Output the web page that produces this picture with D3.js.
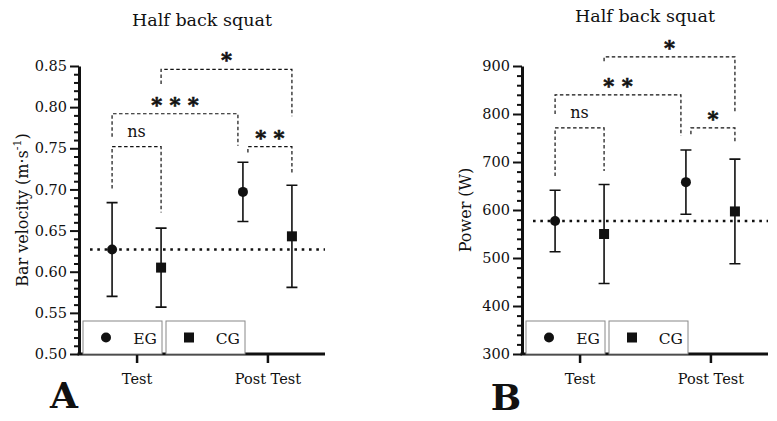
<!DOCTYPE html>
<html>
<head>
<meta charset="utf-8">
<script src="https://cdn.jsdelivr.net/npm/d3@7"></script>
<style>
  body { margin: 0; background: #fff; }
  svg { display: block; }
  text { font-family: "DejaVu Serif", serif; fill: #111; }
</style>
</head>
<body>
<svg id="chart" width="777" height="421"></svg>
<script>
/* globals d3 */
const phases = ['Test', 'Post Test'];
const groups = ['EG', 'CG'];

// bar velocity (m/s), mean and SD per phase
const velocityEG = [0.627, 0.697];
const velocityEGSd = [0.057, 0.036];
const velocityCG = [0.605, 0.643];
const velocityCGSd = [0.048, 0.062];
const velocityBaseline = 0.627;
const velocityTicks = [0.50, 0.55, 0.60, 0.65, 0.70, 0.75, 0.80, 0.85];

// power (W)
const powerEG = [577, 658];
const powerEGSd = [64, 67];
const powerCG = [550, 597];
const powerCGSd = [103, 109];
const powerBaseline = 577;
const powerTicks = [300, 400, 500, 600, 700, 800, 900];

// comparisons between points: 0 EG test, 1 CG test, 2 EG post, 3 CG post
// level = bracket height, endA / endB = where each leg stops (data units)
const velocityComparisons = [
  { a: 0, b: 1, level: 0.752, endA: 0.701, endB: 0.672, label: 'ns' },
  { a: 0, b: 2, level: 0.792, endA: 0.764, endB: 0.753, label: '* * *' },
  { a: 2, b: 3, level: 0.752, endA: 0.745, endB: 0.719, label: '* *' },
  { a: 1, b: 3, level: 0.846, endA: 0.828, endB: 0.789, label: '*' }
];
const powerComparisons = [
  { a: 0, b: 1, level: 771, endA: 671, endB: 681, label: 'ns' },
  { a: 0, b: 2, level: 840, endA: 800, endB: 754, label: '* *' },
  { a: 2, b: 3, level: 771, endA: 758, endB: 742, label: '*' },
  { a: 1, b: 3, level: 919, endA: 910, endB: 804, label: '*' }
];

const svg = d3.select('#chart');
const plotTop = 66;
const plotBottom = 354;
const plotWidth = 246;
const splitPoint = 2; // legs meeting at EG post test sit either side of it

function drawPanel (cfg) {
  const g = svg.append('g');
  const x = d3.scalePoint().domain(phases).range([cfg.left, cfg.left + plotWidth]).padding(0.44);
  const dx = d3.scalePoint().domain(groups).range([-24.5, 24.5]);
  const y = d3.scaleLinear().domain(cfg.domain).range([plotBottom, plotTop]);

  const px = i => x(phases[Math.floor(i / 2)]) + dx(groups[i % 2]);

  // title
  g.append('text')
    .attr('x', cfg.left + plotWidth / 2)
    .attr('y', cfg.titleY)
    .attr('text-anchor', 'middle')
    .style('font-size', '17.5px')
    .text('Half back squat');

  // y axis
  const minor = d3.range(cfg.domain[0], cfg.domain[1] + cfg.minorStep / 2, cfg.minorStep)
    .filter(v => !cfg.ticks.some(t => Math.abs(t - v) < cfg.minorStep / 10));
  g.append('g')
    .attr('transform', `translate(${cfg.left},0)`)
    .call(d3.axisLeft(y).tickValues(minor).tickSize(5).tickFormat(''))
    .call(a => a.select('.domain').remove())
    .call(a => a.selectAll('line').attr('stroke', '#111').attr('stroke-width', 2));
  const yAxis = g.append('g')
    .attr('transform', `translate(${cfg.left},0)`)
    .call(d3.axisLeft(y).tickValues(cfg.ticks).tickSize(9).tickSizeOuter(0).tickPadding(3).tickFormat(cfg.format));
  yAxis.select('.domain').attr('stroke', '#111').attr('stroke-width', 3);
  yAxis.selectAll('line').attr('stroke', '#111').attr('stroke-width', 2);
  yAxis.selectAll('text').style('font-size', '14.5px').attr('fill', '#111').style('font-family', '"DejaVu Serif", serif');

  // x axis
  const xAxis = g.append('g')
    .attr('transform', `translate(0,${plotBottom})`)
    .call(d3.axisBottom(x).tickSize(9).tickSizeOuter(0).tickPadding(11));
  xAxis.select('.domain').attr('stroke', '#111').attr('stroke-width', 3)
    .attr('d', `M${cfg.left - 1.5},0H${cfg.left + plotWidth}`);
  xAxis.selectAll('line').attr('stroke', '#111').attr('stroke-width', 2.5);
  xAxis.selectAll('text').style('font-size', '14.5px').attr('fill', '#111').style('font-family', '"DejaVu Serif", serif');

  // y label
  const yl = g.append('text')
    .attr('transform', `translate(${cfg.left - 51},${(plotTop + plotBottom) / 2}) rotate(-90)`)
    .attr('text-anchor', 'middle')
    .style('font-size', '16px');
  cfg.yLabel(yl);

  // dotted reference line at the EG pre-test mean
  g.append('line')
    .attr('x1', cfg.left + 11).attr('x2', cfg.left + plotWidth)
    .attr('y1', y(cfg.baseline)).attr('y2', y(cfg.baseline))
    .attr('stroke', '#111').attr('stroke-width', 2.5)
    .attr('stroke-dasharray', '2.6,4.7');

  // points and error bars
  const points = [];
  phases.forEach((p, i) => {
    points.push({ i: i * 2, mean: cfg.eg[i], sd: cfg.egSd[i], group: 'EG' });
    points.push({ i: i * 2 + 1, mean: cfg.cg[i], sd: cfg.cgSd[i], group: 'CG' });
  });
  const pg = g.selectAll('.pt').data(points).join('g').attr('class', 'pt');
  pg.append('path')
    .attr('d', d => {
      const cx = px(d.i);
      const y0 = y(d.mean - d.sd);
      const y1 = y(d.mean + d.sd);
      return `M${cx},${y0}V${y1}M${cx - 5.5},${y1}H${cx + 5.5}M${cx - 5.5},${y0}H${cx + 5.5}`;
    })
    .attr('stroke', '#111').attr('stroke-width', 1.6).attr('fill', 'none');
  pg.filter(d => d.group === 'EG').append('circle')
    .attr('cx', d => px(d.i)).attr('cy', d => y(d.mean)).attr('r', 5)
    .attr('fill', '#111');
  pg.filter(d => d.group === 'CG').append('rect')
    .attr('x', d => px(d.i) - 5).attr('y', d => y(d.mean) - 5)
    .attr('width', 10).attr('height', 10)
    .attr('fill', '#111');

  // significance brackets
  cfg.comparisons.forEach(c => {
    const xa = px(c.a) + (c.a === splitPoint ? 5 : 0);
    const xb = px(c.b) - (c.b === splitPoint ? 5 : 0);
    const ly = y(c.level);
    g.append('path')
      .attr('d', `M${xa},${y(c.endA)}V${ly}H${xb}V${y(c.endB)}`)
      .attr('fill', 'none').attr('stroke', '#111').attr('stroke-width', 1.2)
      .attr('stroke-dasharray', '3.5,2.5');
    const isNs = c.label === 'ns';
    const label = g.append('text')
      .attr('x', (xa + xb) / 2)
      .attr('y', isNs ? ly - 10 : ly - 2)
      .attr('text-anchor', 'middle')
      .style('font-size', isNs ? '16px' : '21px')
      .style('font-weight', isNs ? 'normal' : 'bold')
      .text(c.label);
    if (!isNs) label.attr('stroke', '#111').attr('stroke-width', 0.6);
  });

  // legend boxes
  groups.forEach((grp, k) => {
    const bx = cfg.left + 4 + k * 83;
    const lg = g.append('g').attr('transform', `translate(${bx},${plotBottom - 33})`);
    lg.append('rect').attr('width', 79).attr('height', 33)
      .attr('fill', '#fff').attr('stroke', '#888').attr('stroke-width', 1);
    if (grp === 'EG') {
      lg.append('circle').attr('cx', 23).attr('cy', 16.5).attr('r', 5).attr('fill', '#111');
    } else {
      lg.append('rect').attr('x', 18).attr('y', 11.5).attr('width', 10).attr('height', 10).attr('fill', '#111');
    }
    lg.append('text').attr('x', 74).attr('y', 23).attr('text-anchor', 'end')
      .style('font-size', '15.5px').text(grp);
  });

  // panel letter
  g.append('text')
    .attr('x', cfg.letterX).attr('y', cfg.letterY)
    .attr('text-anchor', 'middle')
    .style('font-size', '36px').style('font-weight', 'bold')
    .text(cfg.letter);
}

drawPanel({
  left: 79,
  titleY: 26,
  domain: [0.5, 0.85],
  ticks: velocityTicks,
  minorStep: 0.01,
  format: d3.format('.2f'),
  eg: velocityEG, egSd: velocityEGSd,
  cg: velocityCG, cgSd: velocityCGSd,
  baseline: velocityBaseline,
  comparisons: velocityComparisons,
  yLabel: t => {
    t.append('tspan').text('Bar velocity (m·s');
    t.append('tspan').attr('dy', -7).style('font-size', '11px').text('-1');
    t.append('tspan').attr('dy', 7).text(')');
  },
  letter: 'A', letterX: 64, letterY: 408
});

drawPanel({
  left: 522,
  titleY: 22,
  domain: [300, 900],
  ticks: powerTicks,
  minorStep: 20,
  format: d3.format('d'),
  eg: powerEG, egSd: powerEGSd,
  cg: powerCG, cgSd: powerCGSd,
  baseline: powerBaseline,
  comparisons: powerComparisons,
  yLabel: t => t.text('Power (W)'),
  letter: 'B', letterX: 506, letterY: 410
});
</script>
</body>
</html>
